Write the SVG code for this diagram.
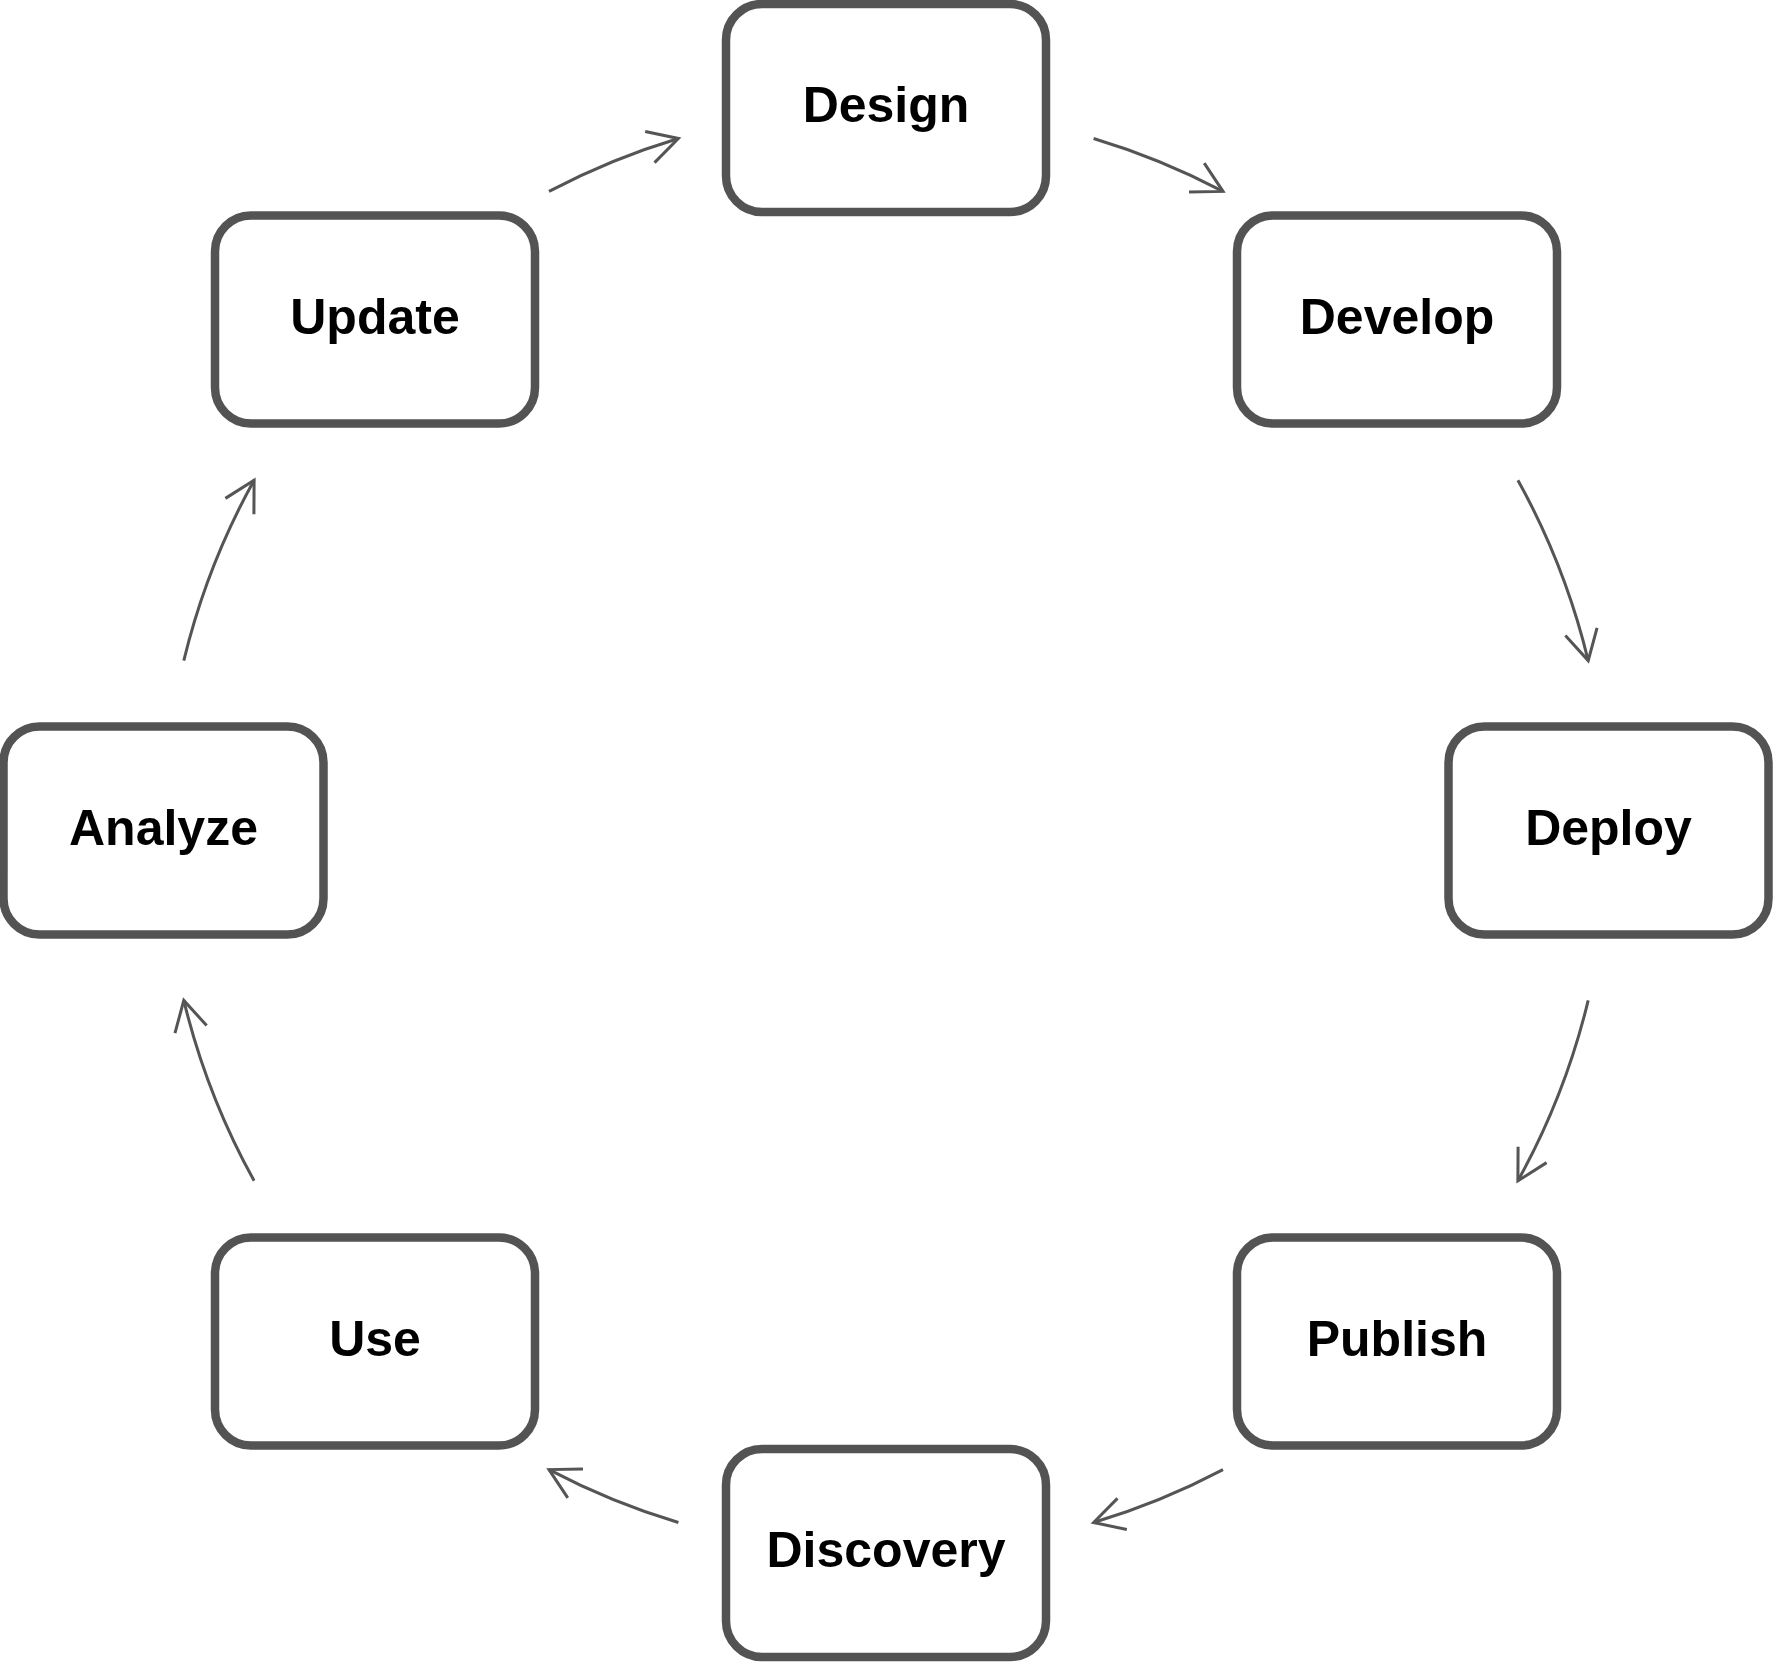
<svg xmlns="http://www.w3.org/2000/svg" width="1773" height="1662" viewBox="0 0 1773 1662">
  <style>
    .box { fill: #ffffff; stroke: #535353; stroke-width: 8.5; }
    .lbl { font-family: "Liberation Sans", Arial, sans-serif; font-weight: bold; font-size: 50px; fill: #000000; text-anchor: middle; }
    .arc { fill: none; stroke: #555555; stroke-width: 3; marker-end: url(#arrow); }
  </style>
  <defs>
    <marker id="arrow" markerUnits="userSpaceOnUse" markerWidth="40" markerHeight="40" refX="0" refY="0" viewBox="-36 -20 40 40" orient="auto" overflow="visible">
      <path d="M -29.8 -16.3 L 0 0 L -29.8 16.3" fill="none" stroke="#555555" stroke-width="3" stroke-linecap="butt" stroke-linejoin="miter"/>
    </marker>
  </defs>
  <rect width="1773" height="1662" fill="#ffffff"/>
  <g id="connectors">
    <path class="arc" d="M 1093.6 138.5 A 722.5 722.5 0 0 1 1223.0 191.4"/>
    <path class="arc" d="M 1517.9 480.2 A 722.5 722.5 0 0 1 1588.2 660.6"/>
    <path class="arc" d="M 1588.2 1000.4 A 722.5 722.5 0 0 1 1517.9 1180.8"/>
    <path class="arc" d="M 1223.0 1469.6 A 722.5 722.5 0 0 1 1093.6 1522.5"/>
    <path class="arc" d="M 678.4 1522.5 A 722.5 722.5 0 0 1 549.0 1469.6"/>
    <path class="arc" d="M 254.1 1180.8 A 722.5 722.5 0 0 1 183.8 1000.4"/>
    <path class="arc" d="M 183.8 660.6 A 722.5 722.5 0 0 1 254.1 480.2"/>
    <path class="arc" d="M 549.0 191.4 A 722.5 722.5 0 0 1 678.4 138.5"/>
  </g>
  <g id="node-design">
    <rect class="box" x="726" y="4" width="320" height="208" rx="36" ry="36"/>
    <text class="lbl" x="886" y="122">Design</text>
  </g>
  <g id="node-develop">
    <rect class="box" x="1237" y="215.5" width="320" height="208" rx="36" ry="36"/>
    <text class="lbl" x="1397" y="333.5">Develop</text>
  </g>
  <g id="node-deploy">
    <rect class="box" x="1448.5" y="726.5" width="320" height="208" rx="36" ry="36"/>
    <text class="lbl" x="1608.5" y="844.5">Deploy</text>
  </g>
  <g id="node-publish">
    <rect class="box" x="1237" y="1237.5" width="320" height="208" rx="36" ry="36"/>
    <text class="lbl" x="1397" y="1355.5">Publish</text>
  </g>
  <g id="node-discovery">
    <rect class="box" x="726" y="1449" width="320" height="208" rx="36" ry="36"/>
    <text class="lbl" x="886" y="1567">Discovery</text>
  </g>
  <g id="node-use">
    <rect class="box" x="215" y="1237.5" width="320" height="208" rx="36" ry="36"/>
    <text class="lbl" x="375" y="1355.5">Use</text>
  </g>
  <g id="node-analyze">
    <rect class="box" x="3.5" y="726.5" width="320" height="208" rx="36" ry="36"/>
    <text class="lbl" x="163.5" y="844.5">Analyze</text>
  </g>
  <g id="node-update">
    <rect class="box" x="215" y="215.5" width="320" height="208" rx="36" ry="36"/>
    <text class="lbl" x="375" y="333.5">Update</text>
  </g>
</svg>
